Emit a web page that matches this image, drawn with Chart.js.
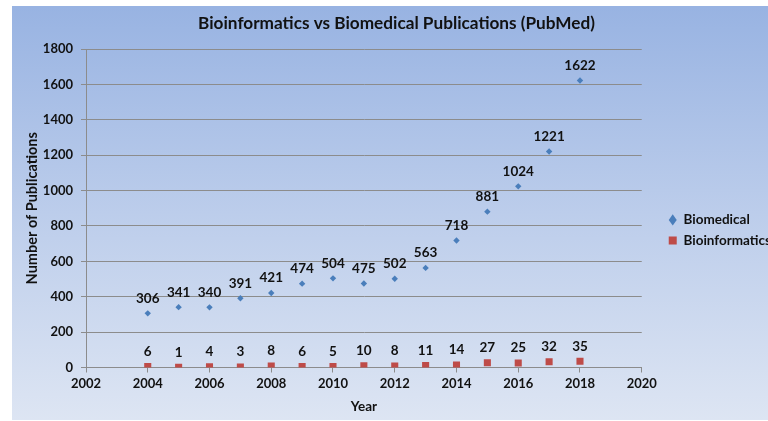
<!DOCTYPE html>
<html>
<head>
<meta charset="utf-8">
<script src="https://cdn.jsdelivr.net/npm/chart.js@4.4.1/dist/chart.umd.min.js"></script>
<style>
  html, body { margin: 0; padding: 0; background: #ffffff; }
  #wrap { width: 768px; height: 421px; position: relative; }
</style>
</head>
<body>
<div id="wrap"><canvas id="c" width="768" height="421"></canvas></div>
<script>
const years = [2004, 2005, 2006, 2007, 2008, 2009, 2010, 2011, 2012, 2013, 2014, 2015, 2016, 2017, 2018];
const biomedical = [306, 341, 340, 391, 421, 474, 504, 475, 502, 563, 718, 881, 1024, 1221, 1622];
const bioinformatics = [6, 1, 4, 3, 8, 6, 5, 10, 8, 11, 14, 27, 25, 32, 35];
const xTickRange = { min: 2002, max: 2020, step: 2 };
const yTickRange = { min: 0, max: 1800, step: 200 };
const titleText = 'Bioinformatics vs Biomedical Publications (PubMed)';
const xTitle = 'Year';
const yTitle = 'Number of Publications';
const seriesNames = ['Biomedical', 'Bioinformatics'];

const FONT = 'Lato, Carlito, "Open Sans", sans-serif';

const bgPlugin = {
  id: 'bg',
  beforeDraw(chart) {
    const ctx = chart.ctx;
    const g = ctx.createLinearGradient(0, 6, 0, 420);
    g.addColorStop(0, '#98b3e2');
    g.addColorStop(0.5, '#bccdeb');
    g.addColorStop(1, '#dde5f3');
    ctx.save();
    ctx.fillStyle = g;
    ctx.fillRect(12, 6, 756, 414);
    ctx.restore();
  }
};

const labelPlugin = {
  id: 'valueLabels',
  afterDatasetsDraw(chart) {
    const ctx = chart.ctx;
    ctx.save();
    ctx.font = 'bold 13.5px ' + FONT;
    ctx.fillStyle = '#111111';
    ctx.textAlign = 'center';
    ctx.textBaseline = 'middle';
    chart.data.datasets.forEach((ds, di) => {
      const meta = chart.getDatasetMeta(di);
      meta.data.forEach((el, i) => {
        ctx.fillText(String(ds.data[i].y), el.x, el.y - 15);
      });
    });
    ctx.restore();
  }
};

const toPoints = (vals) => years.map((y, i) => ({ x: y, y: vals[i] }));

new Chart(document.getElementById('c'), {
  type: 'scatter',
  data: {
    datasets: [
      {
        label: seriesNames[0],
        data: toPoints(biomedical),
        pointStyle: 'rectRot',
        pointRadius: 3.2,
        pointHoverRadius: 3.2,
        backgroundColor: '#4a7ebb',
        borderColor: '#4a7ebb',
        borderWidth: 0
      },
      {
        label: seriesNames[1],
        data: toPoints(bioinformatics),
        pointStyle: 'rect',
        pointRadius: 5,
        pointHoverRadius: 5,
        backgroundColor: '#be4b48',
        borderColor: '#be4b48',
        borderWidth: 0
      }
    ]
  },
  options: {
    responsive: false,
    animation: false,
    devicePixelRatio: 1,
    layout: { padding: { left: 12, top: 6, right: -13, bottom: 1 } },
    plugins: {
      title: {
        display: true,
        text: titleText,
        color: '#111111',
        font: { family: FONT, size: 17.2, weight: 'bold' },
        padding: { top: 7.2, bottom: 15.2 }
      },
      legend: {
        display: true,
        position: 'right',
        align: 'center',
        title: { display: true, text: ' ', font: { size: 10 }, padding: 11.2 },
        labels: {
          usePointStyle: true,
          pointStyleWidth: 8,
          boxHeight: 8,
          padding: 7,
          color: '#111111',
          font: { family: FONT, size: 13.5, weight: 'bold' }
        }
      },
      tooltip: { enabled: false }
    },
    scales: {
      x: {
        type: 'linear',
        min: xTickRange.min,
        max: xTickRange.max,
        afterFit(scale) { scale.height = 52.5; },
        ticks: {
          stepSize: xTickRange.step,
          padding: 4,
          color: '#111111',
          font: { family: FONT, size: 13, weight: 'bold' },
          maxRotation: 0,
          callback: (v) => String(v)
        },
        grid: { display: true, drawOnChartArea: false, drawTicks: true, tickLength: 5, color: '#8c8c8c' },
        border: { display: true, color: '#8c8c8c' },
        title: {
          display: true,
          text: xTitle,
          color: '#111111',
          font: { family: FONT, size: 13.5, weight: 'bold' },
          padding: { top: 0, bottom: 5 }
        }
      },
      y: {
        min: yTickRange.min,
        max: yTickRange.max,
        afterFit(scale) { scale.width = 74; },
        ticks: {
          stepSize: yTickRange.step,
          padding: 8,
          color: '#111111',
          font: { family: FONT, size: 13, weight: 'bold' },
          callback: (v) => String(v)
        },
        grid: { color: '#8c8c8c', tickLength: 5 },
        border: { display: true, color: '#8c8c8c' },
        title: {
          display: true,
          text: yTitle,
          color: '#111111',
          font: { family: FONT, size: 14.5, weight: 'bold' },
          padding: { top: 11.3, bottom: 0 }
        }
      },
      pad: {
        type: 'linear',
        position: 'right',
        display: true,
        afterFit(scale) { scale.width = 20; },
        ticks: { display: false },
        grid: { display: false },
        border: { display: false }
      }
    }
  },
  plugins: [bgPlugin, labelPlugin]
});
</script>
</body>
</html>
